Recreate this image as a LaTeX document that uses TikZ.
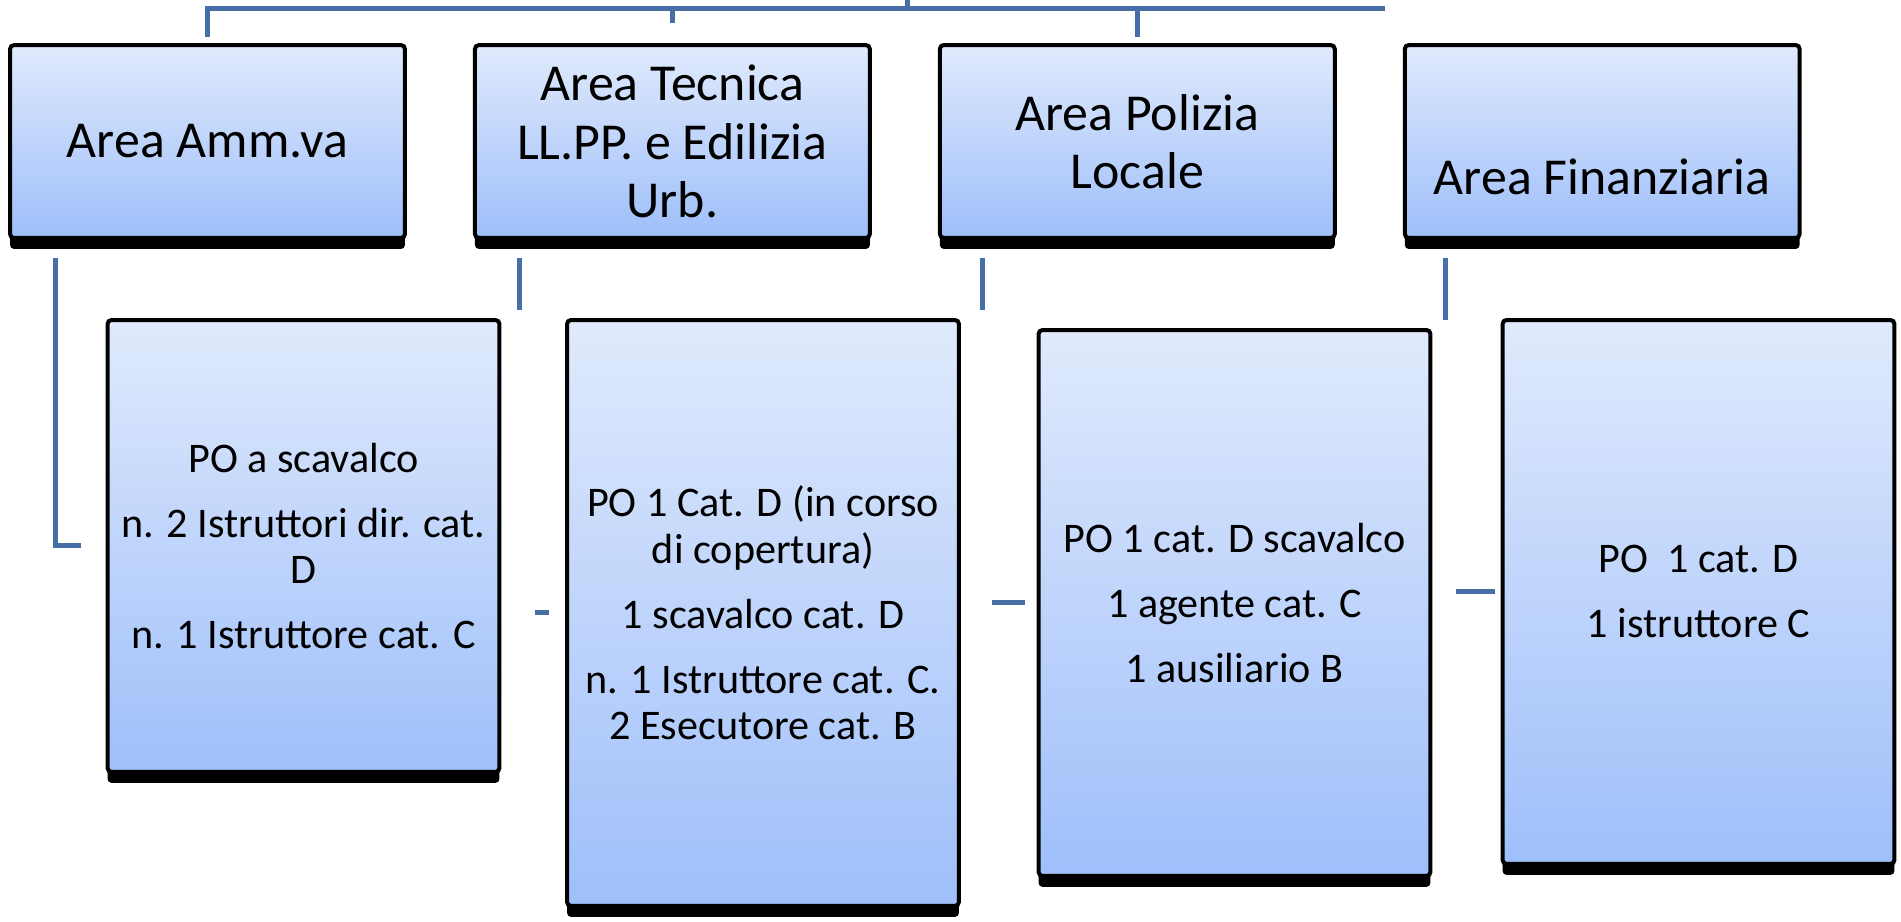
\documentclass[tikz,border=0pt]{standalone}
\usepackage{fontspec}
\setmainfont{Carlito}
\usetikzlibrary{positioning, shadows}
\definecolor{BoxTop}{RGB}{224,234,252}
\definecolor{BoxBottom}{RGB}{158,191,250}
\definecolor{LinkBlue}{RGB}{72,111,165}

\begin{document}
\begin{tikzpicture}[
          x=0.02cm, y=-0.02cm,
          node distance=1.32cm,
          box/.style={rectangle, draw=black, line width=0.08cm, rounded corners=0.08cm, top color=BoxTop, bottom color=BoxBottom, align=center, inner sep=0pt, drop shadow={shadow xshift=0cm, shadow yshift=-0.22cm, opacity=1, fill=black}},
          area/.style={box, minimum width=7.9cm, minimum height=3.86cm, font=\fontsize{29.5}{33.3}\selectfont},
          staff/.style={box, anchor=north, minimum width=7.84cm, font=\fontsize{24}{26.6}\selectfont},
          link/.style={LinkBlue, line width=0.1cm}
        ]
          \useasboundingbox (0,0) rectangle (1901,921);

          \node (amm) [area] at (207.5,141.5) {Area Amm.va};
          \node (tec) [area, right=of amm] {Area Tecnica\\LL.PP. e Edilizia\\Urb.};
          \node (pol) [area, right=of tec] {Area Polizia\\Locale};
          \node (fin) [area, right=of pol] {\raisebox{-0.7cm}[\height][\depth]{Area Finanziaria}};

          \node (ammstaff) [staff, minimum height=9.04cm] at (303.5,318) {PO a scavalco\\[10.4pt]n. 2 Istruttori dir. cat.\\D\\[10.4pt]n. 1 Istruttore cat. C};
          \node (tecstaff) [staff, minimum height=11.72cm] at (763,318) {PO 1 Cat. D (in corso\\di copertura)\\[10.4pt]1 scavalco cat. D\\[10.4pt]n. 1 Istruttore cat. C.\\2 Esecutore cat. B};
          \node (polstaff) [staff, minimum height=10.92cm] at (1234.5,328) {PO 1 cat. D scavalco\\[10.4pt]1 agente cat. C\\[10.4pt]1 ausiliario B};
          \node (finstaff) [staff, minimum height=10.88cm] at (1698.5,318) {PO~~1 cat. D\\[10.4pt]1 istruttore C};

          \coordinate (parent) at (907,0);
          \coordinate (busend) at (1385,8);
          \draw [link] ([yshift=0.12cm]amm.north) |- (busend);
          \draw [link] ([yshift=0.4cm]tec.north) -- (tec.north |- busend);
          \draw [link] ([yshift=0.12cm]pol.north) -- (pol.north |- busend);
          \draw [link] (parent) -- (parent |- busend);

          \draw [link] ([shift={(47,18)}]amm.south west) |- ([xshift=-0.5cm]ammstaff.west);
          \draw [link] ([shift={(47,18)}]tec.south west) -- ++(0,52);
          \draw [link] ([shift={(45,18)}]pol.south west) -- ++(0,52);
          \draw [link] ([shift={(43,18)}]fin.south west) -- ++(0,62);
          \draw [link] ([xshift=-0.6cm]tecstaff.west) -- ([xshift=-0.32cm]tecstaff.west);
          \draw [link] ([xshift=-0.9cm]polstaff.west) -- ([xshift=-0.24cm]polstaff.west);
          \draw [link] ([xshift=-0.9cm]finstaff.west) -- ([xshift=-0.12cm]finstaff.west);
        \end{tikzpicture}
\end{document}
